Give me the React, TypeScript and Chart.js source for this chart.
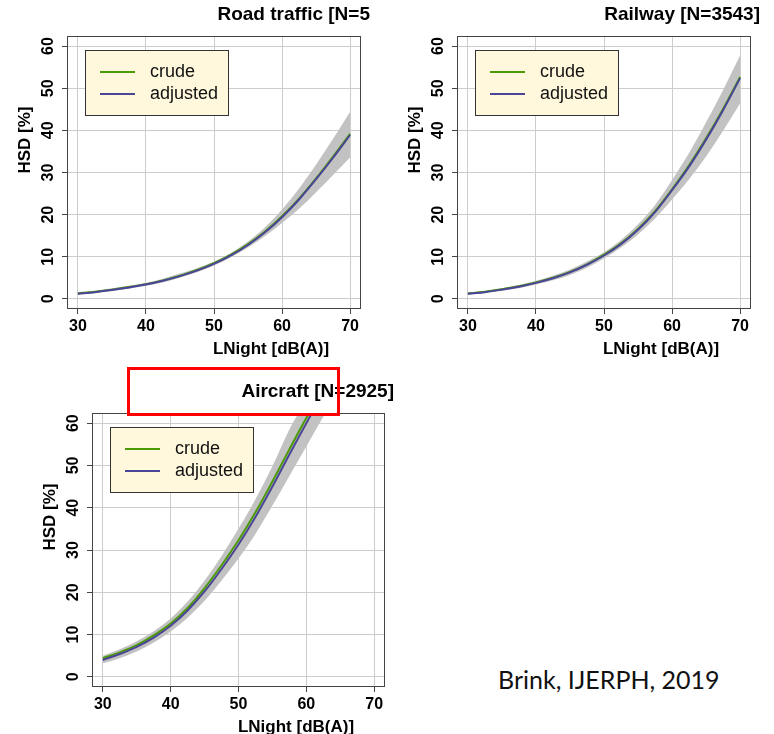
import React, { useEffect, useRef } from 'react';
import { Chart, registerables } from 'chart.js';

Chart.register(...registerables);

// ---- data ----
const dbLevels = [30, 32.5, 35, 37.5, 40, 42.5, 45, 47.5, 50, 52.5, 55, 57.5, 60, 62.5, 65, 67.5, 70];
const xTicks = [30, 40, 50, 60, 70];
const yTicks = [0, 10, 20, 30, 40, 50, 60];
const legendLabels = ['crude', 'adjusted'];

const roadAdjusted = [1.2, 1.6, 2.1, 2.7, 3.4, 4.3, 5.4, 6.7, 8.3, 10.3, 12.8, 15.8, 19.4, 23.6, 28.4, 33.5, 38.9];
const roadCrude = [1.3, 1.7, 2.2, 2.8, 3.5, 4.4, 5.5, 6.9, 8.5, 10.5, 13.0, 16.0, 19.6, 23.8, 28.6, 33.8, 39.2];
const roadLower = [1.0, 1.4, 1.9, 2.4, 3.1, 3.9, 5.0, 6.3, 7.9, 9.9, 12.2, 14.9, 18.0, 21.4, 25.3, 29.4, 33.6];
const roadUpper = [1.5, 1.9, 2.5, 3.1, 3.8, 4.8, 6.0, 7.3, 8.9, 10.9, 13.6, 17.0, 21.2, 26.2, 31.9, 38.0, 44.4];

const railAdjusted = [1.2, 1.6, 2.2, 2.9, 3.8, 4.9, 6.3, 8.1, 10.3, 13.0, 16.4, 20.6, 25.8, 31.4, 37.8, 44.8, 52.4];
const railCrude = [1.3, 1.7, 2.3, 3.0, 3.9, 5.0, 6.4, 8.2, 10.5, 13.2, 16.6, 20.8, 26.0, 31.7, 38.1, 45.1, 52.7];
const railLower = [1.0, 1.4, 1.9, 2.5, 3.4, 4.4, 5.7, 7.4, 9.6, 12.2, 15.3, 19.1, 23.6, 28.4, 33.8, 39.9, 46.4];
const railUpper = [1.5, 1.9, 2.5, 3.3, 4.3, 5.5, 7.0, 8.9, 11.1, 14.0, 17.7, 22.3, 28.2, 34.6, 41.9, 49.6, 57.8];

const airAdjusted = [4.0, 5.4, 7.1, 9.3, 12.1, 15.7, 20.2, 25.5, 31.3, 37.8, 45.0, 52.6, 60.0, 67.0, 73.0, 78.0, 82.0];
const airCrude = [4.4, 5.8, 7.5, 9.8, 12.6, 16.3, 21.0, 26.4, 32.3, 38.9, 46.2, 53.8, 61.2, 68.0, 74.0, 79.0, 83.0];
const airLower = [3.2, 4.4, 6.0, 8.1, 10.7, 14.0, 18.0, 22.8, 28.0, 33.8, 40.5, 47.5, 54.5, 61.5, 68.0, 73.5, 78.0];
const airUpper = [5.0, 6.5, 8.4, 10.8, 13.8, 17.8, 22.8, 28.6, 35.0, 42.0, 49.8, 58.5, 65.5, 72.5, 78.5, 83.5, 87.5];

// ---- styles ----
const FONT = '"Liberation Sans", Arial, Helvetica, sans-serif';
const GREEN = '#4a9a06';
const BLUE = '#4a4596';
const BAND = '#c2c2c2';
const GRID = '#cdcdcd';
const AXIS = '#444444';
const LEGEND_BG = '#fff8dc';

type PanelProps = {
  title: string;
  left: number;
  top: number;
  width: number;
  height: number;
  area: [number, number, number, number]; // page coords: left, top, right, bottom
  crude: number[];
  adjusted: number[];
  lower: number[];
  upper: number[];
};

function Panel(props: PanelProps) {
  const ref = useRef<HTMLCanvasElement | null>(null);
  useEffect(() => {
    const canvas = ref.current;
    if (!canvas) return;
    const { left, top, width, height, area } = props;
    const yAxisWidth = area[0] - left;
    const xAxisHeight = top + height - area[3];
    const padTop = area[1] - top;
    const padRight = left + width - area[2];
    const pts = (arr: number[]) => dbLevels.map((x, i) => ({ x, y: arr[i] }));

    const panelPlugin = {
      id: 'panelDecor',
      afterDraw(chart: any) {
        const ctx = chart.ctx as CanvasRenderingContext2D;
        const ca = chart.chartArea;
        ctx.save();
        // box
        ctx.strokeStyle = AXIS;
        ctx.lineWidth = 1;
        ctx.strokeRect(Math.round(ca.left) + 0.5, Math.round(ca.top) + 0.5, Math.round(ca.right - ca.left) - 1, Math.round(ca.bottom - ca.top) - 1);
        // legend
        const bx = ca.left + 18;
        const by = ca.top + 14;
        ctx.fillStyle = LEGEND_BG;
        ctx.fillRect(bx, by, 143, 65);
        ctx.strokeStyle = '#333';
        ctx.strokeRect(Math.round(bx) + 0.5, Math.round(by) + 0.5, 143, 65);
        const ds = chart.data.datasets;
        const items = [
          { label: legendLabels[0], color: ds[1].borderColor, y: by + 22 },
          { label: legendLabels[1], color: ds[0].borderColor, y: by + 44 },
        ];
        ctx.font = `18px ${FONT}`;
        ctx.textBaseline = 'middle';
        ctx.textAlign = 'left';
        for (const it of items) {
          ctx.strokeStyle = it.color;
          ctx.lineWidth = 2;
          ctx.beginPath();
          ctx.moveTo(bx + 15, it.y);
          ctx.lineTo(bx + 50, it.y);
          ctx.stroke();
          ctx.fillStyle = '#111';
          ctx.fillText(it.label, bx + 65, it.y);
        }
        // title
        ctx.fillStyle = '#000';
        ctx.font = `bold 19px ${FONT}`;
        ctx.textAlign = 'right';
        ctx.textBaseline = 'alphabetic';
        ctx.fillText(props.title, ca.right + 9, ca.top - 16);
        // x axis title
        ctx.font = `bold 17px ${FONT}`;
        ctx.textAlign = 'center';
        ctx.fillText('LNight [dB(A)]', ca.left + 204, ca.bottom + 45);
        // y axis title
        ctx.translate(ca.left - 42, ca.top + 104);
        ctx.rotate(-Math.PI / 2);
        ctx.textBaseline = 'middle';
        ctx.fillText('HSD [%]', 0, 0);
        ctx.restore();
      },
    };

    const lineCommon = {
      pointRadius: 0,
      pointHoverRadius: 0,
      cubicInterpolationMode: 'monotone' as const,
      clip: 0,
    };

    const chart = new Chart(canvas, {
      type: 'line',
      data: {
        datasets: [
          { label: 'adjusted', data: pts(props.adjusted), borderColor: BLUE, borderWidth: 2, fill: false, ...lineCommon },
          { label: 'crude', data: pts(props.crude), borderColor: GREEN, borderWidth: 2, fill: false, ...lineCommon },
          { label: 'upper', data: pts(props.upper), borderColor: 'rgba(0,0,0,0)', borderWidth: 0, backgroundColor: BAND, fill: '+1', ...lineCommon },
          { label: 'lower', data: pts(props.lower), borderColor: 'rgba(0,0,0,0)', borderWidth: 0, fill: false, ...lineCommon },
        ],
      },
      options: {
        animation: false,
        responsive: false,
        maintainAspectRatio: false,
        events: [],
        layout: { padding: { top: padTop, right: padRight, left: 0, bottom: 0 } },
        plugins: { legend: { display: false }, tooltip: { enabled: false }, title: { display: false } },
        scales: {
          x: {
            type: 'linear',
            min: 28.4,
            max: 71.6,
            afterBuildTicks: (s: any) => { s.ticks = xTicks.map((v) => ({ value: v })); },
            afterFit: (s: any) => { s.height = xAxisHeight; },
            grid: { color: GRID, lineWidth: 1, tickLength: 5, tickColor: AXIS, drawTicks: true },
            border: { display: false },
            ticks: { font: { family: FONT, size: 16, weight: 'bold' }, color: '#000', padding: 3, minRotation: 0, maxRotation: 0, autoSkip: false },
          },
          y: {
            type: 'linear',
            min: -2.4,
            max: 62.4,
            afterBuildTicks: (s: any) => { s.ticks = yTicks.map((v) => ({ value: v })); },
            afterFit: (s: any) => { s.width = yAxisWidth; },
            grid: { color: GRID, lineWidth: 1, tickLength: 5, tickColor: AXIS, drawTicks: true },
            border: { display: false },
            ticks: { font: { family: FONT, size: 16, weight: 'bold' }, color: '#000', padding: 5, minRotation: 90, maxRotation: 90, crossAlign: 'center', autoSkip: false },
          },
        },
      } as any,
      plugins: [panelPlugin],
    });
    return () => chart.destroy();
  }, []);

  return (
    <canvas
      ref={ref}
      width={props.width}
      height={props.height}
      style={{ position: 'absolute', left: props.left, top: props.top, width: props.width, height: props.height }}
    />
  );
}

export default function App() {
  return (
    <div style={{ position: 'absolute', left: 0, top: 0, width: 774, height: 734, background: '#fff', overflow: 'hidden' }}>
      <Panel title="Road traffic [N=5" left={0} top={0} width={390} height={362} area={[67, 36, 361, 309]}
        crude={roadCrude} adjusted={roadAdjusted} lower={roadLower} upper={roadUpper} />
      <Panel title="Railway [N=3543]" left={390} top={0} width={384} height={362} area={[457, 36, 751, 309]}
        crude={railCrude} adjusted={railAdjusted} lower={railLower} upper={railUpper} />
      <Panel title="Aircraft [N=2925]" left={0} top={362} width={400} height={372} area={[92, 413, 385, 687]}
        crude={airCrude} adjusted={airAdjusted} lower={airLower} upper={airUpper} />
      <div style={{ position: 'absolute', left: 127, top: 367, width: 213, height: 49, border: '3px solid #ff0000', boxSizing: 'border-box' }} />
      <div style={{ position: 'absolute', left: 498, top: 667, fontFamily: 'Lato, "Liberation Sans", sans-serif', fontSize: 25, lineHeight: '25px', color: '#111', whiteSpace: 'nowrap' }}>
        Brink, IJERPH, 2019
      </div>
    </div>
  );
}
